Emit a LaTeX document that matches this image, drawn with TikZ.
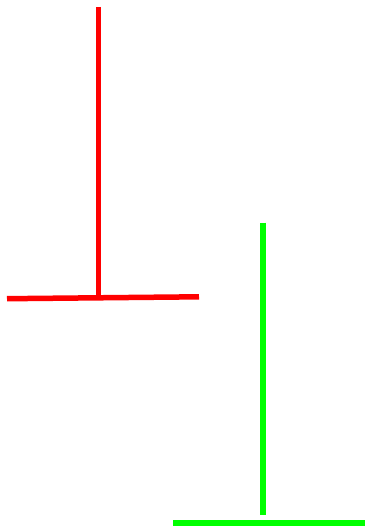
\documentclass[tikz,border=0pt]{standalone}
\usepackage{tikz}
\definecolor{barred}{HTML}{FF0000}
\definecolor{bargreen}{HTML}{00FF00}

\begin{document}
\begin{tikzpicture}[
  x=1pt, y=-1pt,
  redbar/.style={draw=barred, line width=5.5pt},
  greenbar/.style={draw=bargreen, line width=5.5pt}
]
  \useasboundingbox (0,0) rectangle (366,527);
  % red stand
  \coordinate (rtop) at (98.3,7);
  \coordinate (rfoot) at (98.3,297);
  \coordinate (rleft) at (7,298.7);
  \coordinate (rright) at (199,296.8);
  \draw[redbar] (rtop) -- (rfoot);
  \draw[redbar] (rleft) -- (rright);
  % green stand
  \coordinate (gtop) at (263,222.7);
  \coordinate (gfoot) at (263,515);
  \coordinate (gleft) at (173,522.8);
  \coordinate (gright) at (365,522.8);
  \draw[greenbar] (gtop) -- (gfoot);
  \draw[greenbar] (gleft) -- (gright);
\end{tikzpicture}
\end{document}
